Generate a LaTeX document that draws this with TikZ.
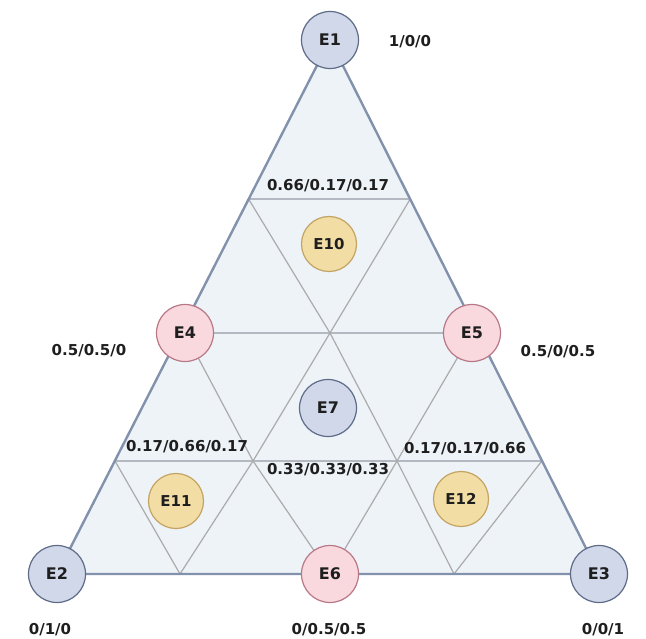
\documentclass[tikz,border=0pt]{standalone}
\usepackage{fontspec}
\setmainfont{DejaVu Sans}
\usetikzlibrary{calc,backgrounds}
\definecolor{trifill}{HTML}{EEF3F8}
\definecolor{outerln}{HTML}{8392AC}
\definecolor{innerln}{HTML}{ABABAB}
\definecolor{hln}{HTML}{B4B8C0}
\definecolor{bfill}{HTML}{D0D8EA}
\definecolor{bdraw}{HTML}{5E6C88}
\definecolor{pfill}{HTML}{F9D9DE}
\definecolor{pdraw}{HTML}{B87888}
\definecolor{yfill}{HTML}{F2DEA4}
\definecolor{ydraw}{HTML}{C4A464}
\definecolor{txt}{HTML}{1E1E1E}
\tikzset{
  nodebase/.style={circle, line width=1.2pt, minimum size=57pt, inner sep=0pt, text=txt, font=\bfseries\fontsize{16}{18}\selectfont},
  bluenode/.style={nodebase, draw=bdraw, fill=bfill},
  pinknode/.style={nodebase, draw=pdraw, fill=pfill},
  yellownode/.style={nodebase, draw=ydraw, fill=yfill, minimum size=55pt, font=\bfseries\fontsize{15}{18}\selectfont},
  lab/.style={text=txt, inner sep=0pt},
  outeredge/.style={draw=outerln, line width=2.4pt},
  hline/.style={draw=hln, line width=2pt},
  dline/.style={draw=innerln, line width=1.2pt}
}
\begin{document}
\begin{tikzpicture}[x=1pt,y=-1pt,font=\bfseries\fontsize{15}{18}\selectfont]
\useasboundingbox (0,0) rectangle (646,639);
% vertex nodes
\node[bluenode] (E1) at (330,40) {E1};
\node[bluenode] (E2) at (57,574) {E2};
\node[bluenode] (E3) at (599,574) {E3};
\node[pinknode] (E4) at (185,333) {E4};
\node[pinknode] (E5) at (472,333) {E5};
\node[pinknode] (E6) at (330,574) {E6};
\node[bluenode] (E7) at (328,408) {E7};
\node[yellownode] (E10) at (329,244) {E10};
\node[yellownode] (E11) at (176,501) {E11};
\node[yellownode] (E12) at (461,499) {E12};
% grid points
\coordinate (p1) at ($(E1.center)!0.298!(E2.center)$);
\coordinate (p2) at ($(E1.center)!0.298!(E3.center)$);
\coordinate (h1) at ($(E1.center)!0.788!(E2.center)$);
\coordinate (h2) at ($(E1.center)!0.788!(E3.center)$);
\coordinate (c) at (330,333);
\coordinate (q1) at (253,461);
\coordinate (q2) at (397,461);
\coordinate (v1) at (180,574);
\coordinate (v2) at (454,574);
\begin{scope}[on background layer]
  \fill[white] (0,0) rectangle (646,639);
  \fill[trifill] (E1.center) -- (E2.center) -- (E3.center) -- cycle;
  \draw[hline] (p1) -- (p2);
  \draw[hline] (E4.center) -- (E5.center);
  \draw[hline] (h1) -- (h2);
  \draw[dline] (p1) -- (c) -- (q2) -- (v2);
  \draw[dline] (p2) -- (c) -- (q1) -- (v1);
  \draw[dline] (E4.center) -- (q1) -- (E6.center);
  \draw[dline] (E5.center) -- (q2) -- (E6.center);
  \draw[dline] (h1) -- (v1);
  \draw[dline] (h2) -- (v2);
  \draw[outeredge, line join=round] (E1.center) -- (E2.center) -- (E3.center) -- cycle;
\end{scope}
% labels
\node[lab] (l1) at (410,42) {1/0/0};
\node[lab] (l2) at (328,186) {0.66/0.17/0.17};
\node[lab] (l3) at (89,351) {0.5/0.5/0};
\node[lab] (l4) at (558,352) {0.5/0/0.5};
\node[lab] (l5) at (187,447) {0.17/0.66/0.17};
\node[lab] (l6) at (465,449) {0.17/0.17/0.66};
\node[lab] (l7) at (328,470) {0.33/0.33/0.33};
\node[lab] (l8) at (50,630) {0/1/0};
\node[lab] (l9) at (329,630) {0/0.5/0.5};
\node[lab] (l10) at (603,630) {0/0/1};
\end{tikzpicture}
\end{document}
